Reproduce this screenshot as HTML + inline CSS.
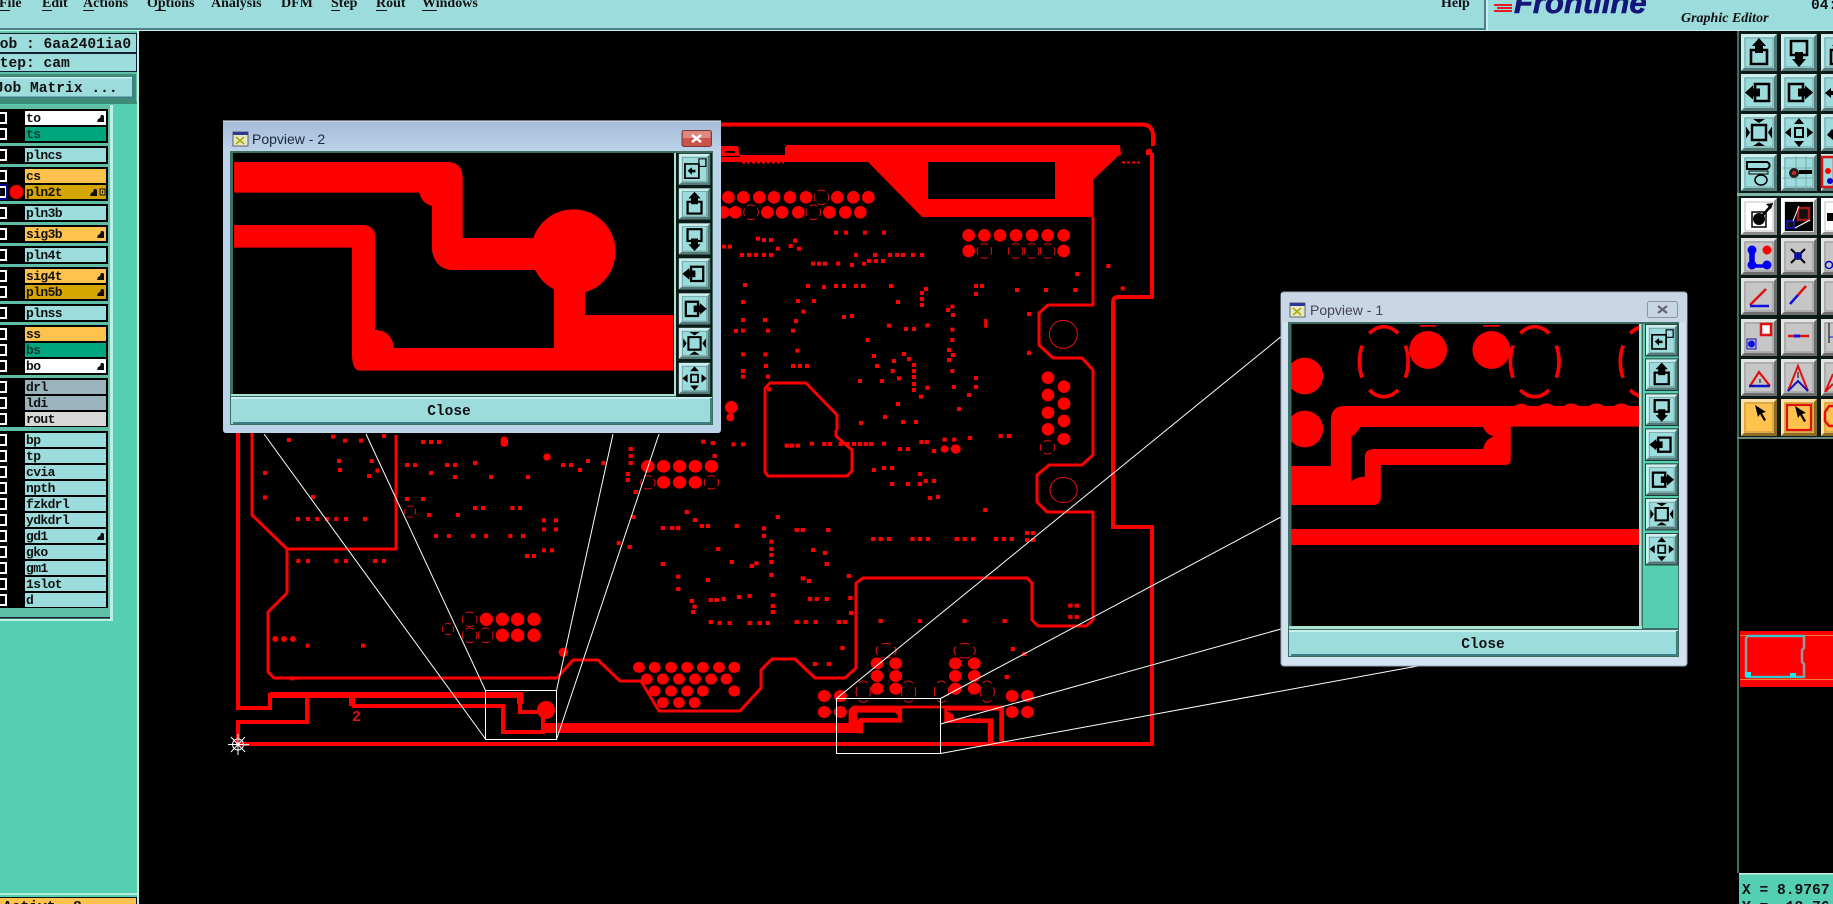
<!DOCTYPE html>
<html><head><meta charset="utf-8"><title>Genesis Graphic Editor</title>
<style>
html,body{margin:0;padding:0;background:#000;width:1833px;height:904px;overflow:hidden}
svg{display:block}
.m{font:bold 12px "Liberation Mono",monospace;fill:#111}
.j{font:bold 14.6px "Liberation Mono",monospace;fill:#111}
.n{font:bold 14px "Liberation Serif",serif;fill:#111}
.s{fill:none;stroke:#f00;stroke-width:12;stroke-linecap:square}
.r{fill:none;stroke:#f00;stroke-linecap:round}
.d{fill:none;stroke:#e01010;stroke-width:3;stroke-dasharray:2.8 1.2;stroke-dashoffset:1.4}
.t{fill:none;stroke:#f00;stroke-linejoin:round}
.w{fill:none;stroke:#fff;stroke-width:1}
</style></head><body>
<svg width="1833" height="904" viewBox="0 0 1833 904" xmlns="http://www.w3.org/2000/svg">
<defs>
<g id="b"><rect width="38" height="39" fill="#0c1a18"/><rect x="1" y="1" width="36" height="37" fill="currentColor"/><path d="M1 1h36l-3 3H4v31l-3 3z" fill="#fff" opacity=".5"/><path d="M37 1v37H1l3-3h30V4z" fill="#000" opacity=".45"/><rect x="5" y="5" width="28" height="29" fill="none" stroke="#000" stroke-width=".5" opacity=".5"/></g>
<g id="iup"><path d="M11 17h16v14H11z" fill="none" stroke="#000" stroke-width="2.6"/><path d="M19 5l7 8h-3v7h-8v-7h-3z"/></g>
<g id="idn"><path d="M11 8h16v14H11z" fill="none" stroke="#000" stroke-width="2.6"/><path d="M19 34l7-8h-3v-7h-8v7h-3z"/></g>
<g id="ilf"><path d="M15 11h14v17H15z" fill="none" stroke="#000" stroke-width="2.6"/><path d="M5 19.500l8-7v3h7v8h-7v3z"/></g>
<g id="irt"><path d="M9 11h14v17H9z" fill="none" stroke="#000" stroke-width="2.6"/><path d="M33 19.500l-8-7v3h-7v8h7v3z"/></g>
<g id="ifit"><path d="M12 12h14v15H12z" fill="none" stroke="#000" stroke-width="2.4"/><path d="M19 10l-6-4h12zM19 29l-6 4h12zM10 19.500l-4-6v12zM28 19.500l4-6v12z"/></g>
<g id="imv"><path d="M15 15h8v9h-8z" fill="none" stroke="#000" stroke-width="2"/><path d="M19 5l-5 6h10zM19 34l-5-6h10zM5 19.500l6-5v10zM33 19.500l-6-5v10z"/></g>
<g id="ibk"><path d="M8 13h16v17H8z" fill="none" stroke="#000" stroke-width="2"/><path d="M24 7h8v9h-8z" fill="none" stroke="#000" stroke-width="1.300"/><path d="M11 21l5-4v3h4v3h-4v3z"/></g>
<path id="h" d="M0 7l1-3 2-1 1-3h2l1 1v6z" fill="#111"/>
</defs>

<!-- menu bar -->
<rect width="1833" height="31" fill="#9ddcdc"/>
<rect y="28" width="1486" height="2" fill="#4d8086"/>
<rect y="30" width="1833" height="1" fill="#c8eeee"/>
<rect x="1484" width="2" height="30" fill="#4d8086"/><rect x="1486" width="2" height="30" fill="#c8eeee"/>
<text class="n" x="-1" y="7">File</text><text class="n" x="42" y="7">Edit</text><text class="n" x="83" y="7">Actions</text><text class="n" x="147" y="7">Options</text><text class="n" x="211" y="7">Analysis</text><text class="n" x="281" y="7">DFM</text><text class="n" x="331" y="7">Step</text><text class="n" x="376" y="7">Rout</text><text class="n" x="422" y="7">Windows</text><text class="n" x="1441" y="7">Help</text>
<path d="M0 10.500h10M42 10.500h10M83 10.500h11M155 10.500h11M331 10.500h9M376 10.500h11M422 10.500h15" stroke="#111" stroke-width="1"/>
<path d="M1494 5h18M1497 8h15M1494 11h18" stroke="#e02020" stroke-width="2"/>
<text x="1514" y="13" style="font:italic bold 31px 'Liberation Sans',sans-serif;fill:#14147a;stroke:#14147a;stroke-width:.6px">Frontline</text>
<text x="1681" y="22" style="font:italic bold 14px 'Liberation Serif',serif;fill:#111">Graphic Editor</text>
<text x="1811" y="9" class="j">04:</text>

<!-- black canvas -->
<rect x="139" y="31" width="1694" height="873" fill="#000"/>

<!-- board -->
<g id="board">
<path d="M720 124.500H1143Q1153 125 1153 136V146M1152 153V297H1118Q1113 297 1113 303V527H1152V744H238" fill="none" stroke="#f00" stroke-width="4"/>
<path d="M720 157H740V155H785V147L787 145H1120L1121 155L1118 156L1112 162L1093 180V217H922L868 162H720ZM928 162V199H1055V162Z" fill="#f00" fill-rule="evenodd"/>
<path d="M720 146H738L740 156H720Z" fill="#f00"/><rect x="725" y="151" width="10" height="2" fill="#000"/>
<path d="M1146 150q4-3 6 0v5h-6z" fill="#f00"/>
<path d="M742 162.500h42M1122 162.500h18" stroke="#f00" stroke-width="2" stroke-dasharray="3 2"/>
<g class="t" style="stroke-width:3">
<path d="M252 430V515L287 549H396V435M287 549V593L268 612V672L274 678H557L573 660H598L620 681H641L659 711H740L761 688V670L772 659H795L815 678H845L856 668V583L863 578H1027L1032 583V620L1038 626H1086L1093 620V512H1047L1037 502V475L1049 465H1082L1093 455V370L1082 358H1053L1039 345V313L1048 305H1093V217"/>
<path d="M765 430V388L770 383H806L837 415V430M765 430V472L768 476H847L852 471V450L836 436V430"/>
</g>
<g fill="none" stroke="#f00">
<path d="M238 430V708H270V695H520V712H545" stroke-width="4"/>
<path d="M270 695H520V704" stroke-width="6"/>
<path d="M238 745V722H307V695" stroke-width="4"/>
<path d="M352 706H503V732H543V716" stroke-width="4"/>
<path d="M352 696V706" stroke-width="6"/>
<path d="M543 728H863" stroke-width="10"/>
</g>
<circle cx="546" cy="710" r="9" fill="#f00"/>
<text x="352" y="721" style="font:bold 15px 'Liberation Mono',monospace;fill:#e01010">2</text>

<!-- zoom 6 area pads -->
<g transform="translate(700 110) scale(.33333)">
<path class="s" d="M72 410h0M90 410h0M174 386h0M192 390h0M213 390h0M234 416h0M285 392h0M272 408h0M297 416h0M126 435h0M147 435h0M168 435h0M192 435h0M213 435h0M408 368h0M438 368h0M495 368h0M552 368h0M468 435h0M525 435h0M570 435h0M591 435h0M609 435h0M639 435h0M666 435h0M507 453h0M528 453h0M549 453h0M492 461h0M456 465h0M414 461h0M339 461h0M357 461h0M375 461h0M135 525h0M324 528h0M372 531h0M408 528h0M432 528h0M468 528h0M489 528h0M573 528h0M678 537h0M666 549h0M666 567h0M666 585h0M828 528h0M846 528h0M828 552h0M951 540h0M1038 540h0M1126 540h0M1132 492h0M1225 468h0M1268 535h0M129 576h0M294 573h0M342 573h0M594 576h0M310 605h0M288 633h0M432 621h0M456 618h0M129 630h0M195 630h0M108 663h0M129 662h0M204 662h0M279 662h0M567 647h0M618 657h0M642 657h0M682 646h0M757 659h0M757 590h0M744 600h0M759 615h0M757 690h0M987 612h0M987 729h0M747 720h0M759 735h0M747 750h0M757 783h0M503 690h0M129 733h0M196 733h0M292 722h0M198 768h0M279 768h0M300 768h0M321 768h0M129 783h0M129 800h0M204 800h0M522 738h0M531 768h0M582 753h0M612 732h0M627 747h0M642 765h0M642 783h0M642 801h0M642 822h0M642 840h0M578 783h0M597 805h0M480 813h0M546 813h0M682 833h0M663 860h0M762 831h0M828 804h0M828 831h0M807 855h0M777 897h0M594 882h0M555 921h0M609 936h0M648 936h0M483 939h0M207 838h0"/>
<path class="r" style="stroke-width:38" d="M85 262h0M130 262h0M178 262h0M222 262h0M270 262h0M318 262h0M412 262h0M460 262h0M505 262h0M106 307h0M202 307h0M246 307h0M295 307h0M388 307h0M436 307h0M481 307h0M70 307h0M806 376h0M853 376h0M900 376h0M948 376h0M996 376h0M1043 376h0M1091 376h0M806 423h0M1091 423h0M1044 803h0M1092 830h0M1044 855h0M1092 881h0M1044 908h0M1092 933h0M1044 958h0M94 892h0"/>
<path class="r" style="stroke-width:24" d="M91 922h0"/>
<circle class="d" pathLength="16" cx="364" cy="262" r="22"/><circle class="d" pathLength="16" cx="153" cy="307" r="22"/><circle class="d" pathLength="16" cx="340" cy="307" r="22"/><circle class="d" pathLength="16" cx="853" cy="423" r="22"/><circle class="d" pathLength="16" cx="947" cy="423" r="22"/><circle class="d" pathLength="16" cx="995" cy="423" r="22"/><circle class="d" pathLength="16" cx="1043" cy="423" r="22"/>
<circle cx="1090" cy="673" r="42" fill="none" stroke="#e01010" stroke-width="3"/>
<path d="M857 627V653" stroke="#f00" stroke-width="9"/>
</g>

<!-- zoom 7 area pads -->
<g transform="translate(220 430) scale(.33333)">
<path class="s" d="M207 30h0M339 20h0M375 32h0M423 32h0M492 18h0M609 36h0M633 36h0M657 36h0M357 93h0M455 93h0M135 129h0M447 138h0M561 105h0M585 105h0M681 105h0M705 105h0M765 99h0M633 129h0M705 141h0M813 141h0M924 141h0M1029 105h0M1053 105h0M1104 93h0M1080 120h0M1150 99h0M135 202h0M279 201h0M561 207h0M609 207h0M627 255h0M714 255h0M765 234h0M789 234h0M877 234h0M900 234h0M972 271h0M1008 271h0M972 298h0M1008 298h0M972 361h0M996 361h0M921 378h0M942 378h0M234 267h0M264 267h0M292 267h0M321 267h0M349 267h0M378 267h0M435 267h0M648 318h0M687 318h0M759 318h0M798 318h0M871 318h0M909 318h0M235 393h0M264 393h0M349 393h0M378 393h0M465 393h0M492 393h0M1196 339h0M263 647h0M429 647h0M360 120h0M472 122h0M218 745h0"/>
<path class="r" style="stroke-width:40" d="M799 568h0M847 568h0M893 568h0M942 568h0M847 616h0M893 616h0M942 616h0"/>
<path class="r" style="stroke-width:18" d="M166 627h0M192 627h0M219 627h0"/>
<path class="r" style="stroke-width:22" d="M853 30v10M981 81h0"/>
<path class="r" style="stroke-width:28" d="M1030 667h0"/>
<circle class="d" pathLength="16" cx="749" cy="568" r="22"/><circle class="d" pathLength="16" cx="749" cy="616" r="22"/><circle class="d" pathLength="16" cx="797" cy="616" r="22"/><circle class="d" pathLength="16" cx="684" cy="597" r="17"/><circle class="d" pathLength="16" cx="570" cy="245" r="17"/>
</g>

<!-- zoom 8 area -->
<g transform="translate(620 430) scale(.35714 .33333)">
<path class="s" d="M233 35h0M260 39h0M318 43h0M345 43h0M30 57h0M30 78h0M30 99h0M265 78h0M22 132h0M22 150h0M44 186h0M38 261h0M187 246h0M210 270h0M229 288h0M246 288h0M120 294h0M146 294h0M163 294h0M327 288h0M403 295h0M403 318h0M442 261h0M495 300h0M512 300h0M583 300h0M27 351h0M424 335h0M424 357h0M424 375h0M424 396h0M424 435h0M275 357h0M313 396h0M382 400h0M369 408h0M541 360h0M574 369h0M579 402h0M120 402h0M163 440h0M246 450h0M163 477h0M512 445h0M529 453h0M641 438h0M645 504h0M201 513h0M254 510h0M271 510h0M290 507h0M333 501h0M363 498h0M428 495h0M532 507h0M551 507h0M579 507h0M209 530h0M205 546h0M428 528h0M428 546h0M254 576h0M279 579h0M307 579h0M363 579h0M391 579h0M414 579h0M495 576h0M520 576h0M548 576h0M613 576h0M630 576h0M647 549h0M623 654h0M546 702h0M585 702h0M730 573h0M840 573h0M965 573h0M1077 573h0M1100 657h0M1132 672h0M1083 741h0M467 47h0M482 47h0M498 47h0M537 41h0M572 42h0M588 42h0M618 42h0M637 42h0M655 42h0M672 42h0M688 42h0M703 42h0M739 41h0M784 57h0M806 57h0M844 36h0M859 36h0M879 63h0M909 29h0M936 29h0M980 24h0M1066 18h0M1089 18h0M711 120h0M739 114h0M762 114h0M840 132h0M762 162h0M806 162h0M840 162h0M856 153h0M879 153h0M868 204h0M890 201h0M1023 240h0M709 327h0M730 327h0M753 327h0M819 327h0M840 327h0M862 327h0M943 327h0M965 327h0M989 327h0M1053 327h0M1075 327h0M1097 327h0M1140 309h0M1157 309h0M1140 330h0M1157 330h0M1261 527h0M1279 527h0M1261 561h0M1279 561h0"/>
<path class="r" style="stroke-width:38" d="M78 109h0M122 109h0M167 109h0M211 109h0M256 109h0M122 157h0M167 157h0M211 157h0"/>
<path class="r" style="stroke-width:33" d="M53 712h0M97 712h0M143 712h0M188 712h0M232 712h0M277 712h0M320 712h0M75 747h0M120 747h0M165 747h0M210 747h0M255 747h0M298 747h0M97 783h0M143 783h0M188 783h0M232 783h0M320 783h0M120 818h0M165 818h0M209 818h0"/>
<path class="r" style="stroke-width:36" d="M572 798h0M617 798h0M572 846h0M617 846h0M720 700h0M772 700h0M720 738h0M772 738h0M720 776h0M772 776h0M939 700h0M992 700h0M939 738h0M992 738h0M939 776h0M992 776h0M1098 798h0M1141 798h0M1098 846h0M1141 846h0"/>
<path class="r" style="stroke-width:36" d="M1243 27h0"/><path class="r" style="stroke-width:22" d="M909 57h0"/><path class="r" style="stroke-width:28" d="M940 57h0"/>
<circle class="d" pathLength="16" cx="78" cy="157" r="20"/><circle class="d" pathLength="16" cx="256" cy="157" r="20"/><circle class="d" pathLength="16" cx="1197" cy="52" r="20"/>
<circle cx="1242" cy="180" r="38" fill="none" stroke="#e01010" stroke-width="3"/>
<ellipse class="d" pathLength="16" cx="745" cy="662" rx="28" ry="22"/><ellipse class="d" pathLength="16" cx="965" cy="662" rx="30" ry="22"/>
<ellipse class="d" pathLength="16" cx="681" cy="785" rx="20" ry="32"/><ellipse class="d" pathLength="16" cx="808" cy="785" rx="20" ry="32"/><ellipse class="d" pathLength="16" cx="900" cy="785" rx="20" ry="32"/><ellipse class="d" pathLength="16" cx="1028" cy="785" rx="20" ry="32"/>
<path d="M640 880V840L652 827H1075V935H1062V842H914L935 855V865H1045V940H1030V879H908V835H790V878H680V910H665V880Z" fill="#f00"/>
<path d="M664 848H770L778 856H778V864H672L664 872Z" fill="#000"/>
<path d="M1062 936H1280V942H1062Z" fill="#f00"/>
</g>

<!-- star -->
<g stroke="#fff" stroke-width="1" fill="none"><circle cx="238" cy="744.500" r="5.500"/><path d="M228 744.500h21M238 734v21M231 737l14 15M245 737l-14 15"/></g>
<path d="M238 739v3M243 745h5" stroke="#5ccccc" stroke-width="1"/>
</g>

<!-- zoom windows and rays -->
<rect class="w" x="485.500" y="690.500" width="71" height="49"/>
<rect class="w" x="836.500" y="698.500" width="104" height="55"/>
<path class="w" d="M264 434L485.500 739M366 434L485.500 690.500M613 434L556.500 690.500M659 434L556.500 739.500M836.500 698.500L1281 336.700M940.500 698.500L1281 517M940.500 724L1281 629M940.500 753.500L1418 666"/>

<!-- right toolbar -->
<rect x="1737" y="438" width="2" height="435" fill="#3c6e62"/>
<rect x="1737" y="31" width="96" height="407" fill="#0c1a18"/>
<rect x="1737" y="31" width="2" height="407" fill="#3c6e62"/>
<rect x="1737" y="193" width="96" height="3" fill="#7fb5a8"/>
<rect x="1737" y="437" width="96" height="2" fill="#6a8a80"/>
<g color="#9ddcdc">
<use href="#b" x="1740" y="33"/><use href="#b" x="1780" y="33"/><use href="#b" x="1820" y="33"/>
<use href="#b" x="1740" y="73"/><use href="#b" x="1780" y="73"/><use href="#b" x="1820" y="73"/>
<use href="#b" x="1740" y="113"/><use href="#b" x="1780" y="113"/><use href="#b" x="1820" y="113"/>
<use href="#b" x="1740" y="153"/><use href="#b" x="1780" y="153"/><use href="#b" x="1820" y="153"/>
</g>
<use href="#iup" x="1740" y="33"/><use href="#idn" x="1780" y="33"/><use href="#iup" x="1820" y="33"/>
<use href="#ilf" x="1740" y="73"/><use href="#irt" x="1780" y="73"/><path d="M1825 93l6-5v3h2v4h-2v3z"/>
<use href="#ifit" x="1740" y="113"/><use href="#imv" x="1780" y="113"/><path d="M1827 135l5-6 1 1v10z"/>
<g><path d="M1747 162h20a5 4 0 0 1 0 7h-20z" fill="none" stroke="#000" stroke-width="2"/><path d="M1749 171h19v3h-19z" fill="none" stroke="#000"/><ellipse cx="1761" cy="180" rx="6" ry="5" fill="none" stroke="#000" stroke-width="1.500"/></g>
<path d="M1783 168h32M1783 178h32M1796 156v34M1806 156v34" stroke="#7aa8a8" stroke-width="1"/><circle cx="1794" cy="173" r="5" fill="#222"/><circle cx="1794" cy="173" r="2" fill="#d22"/><path d="M1799 172h13" stroke="#000" stroke-width="4"/>
<rect x="1822" y="157" width="12" height="30" fill="#9ddcdc" stroke="#e01010" stroke-width="2.500"/><circle cx="1828" cy="171" r="3" fill="#f00"/><circle cx="1830" cy="181" r="3" fill="#00c"/>

<g color="#fff"><use href="#b" x="1740" y="197"/><use href="#b" x="1780" y="197"/><use href="#b" x="1820" y="197"/></g>
<g color="#c6c6c6">
<use href="#b" x="1740" y="237"/><use href="#b" x="1780" y="237"/><use href="#b" x="1820" y="237"/>
<use href="#b" x="1740" y="277"/><use href="#b" x="1780" y="277"/><use href="#b" x="1820" y="277"/>
<use href="#b" x="1740" y="318"/><use href="#b" x="1780" y="318"/><use href="#b" x="1820" y="318"/>
<use href="#b" x="1740" y="358"/><use href="#b" x="1780" y="358"/><use href="#b" x="1820" y="358"/>
</g>
<g color="#ffc34d"><use href="#b" x="1740" y="398"/><use href="#b" x="1780" y="398"/><use href="#b" x="1820" y="398"/></g>

<rect x="1752" y="212" width="14" height="15" fill="none" stroke="#000" stroke-width="1.500"/><circle cx="1759" cy="219" r="6" fill="#000"/><path d="M1762 216l8-9" stroke="#000" stroke-width="2.500"/><path d="M1773 203l-7 1 5 5z"/>
<rect x="1785" y="202" width="28" height="29" fill="#000"/><rect x="1798" y="208" width="11" height="12" fill="#111" stroke="#a01818" stroke-width="2.500"/><rect x="1787" y="221" width="7" height="7" fill="#111" stroke="#1414a0" stroke-width="2"/><path d="M1793 221l6-15M1795 228l15-8" stroke="#fff" stroke-width="1"/>
<path d="M1827 221v-8h6v8z" fill="#000"/>

<g fill="#0000f0"><circle cx="1752" cy="250" r="4.500"/><circle cx="1752" cy="265" r="4.500"/><circle cx="1767" cy="265" r="4.500"/><path d="M1750 250h4v15h13v2h-17z" stroke="#0000f0" stroke-width="1.500"/></g><circle cx="1767" cy="250" r="4.500" fill="#f00"/>
<path d="M1791 249l14 14M1805 249l-14 14" stroke="#000" stroke-width="2"/><circle cx="1798" cy="256" r="4" fill="#1010a0"/>
<circle cx="1829" cy="265" r="3.500" fill="none" stroke="#00c" stroke-width="1.500"/>

<path d="M1750 305l16-16" stroke="#e01010" stroke-width="2.500"/><path d="M1750 306h19" stroke="#1010e0" stroke-width="2.500"/>
<path d="M1790 304l8-9" stroke="#1010e0" stroke-width="2.500"/><path d="M1798 295l8-9" stroke="#e01010" stroke-width="2.500"/>
<rect x="1761" y="324" width="10" height="11" fill="#fff" stroke="#e01010" stroke-width="2.500"/><rect x="1747" y="339" width="9" height="10" fill="#bbb" stroke="#1010c0"/><circle cx="1751.500" cy="344" r="3.500" fill="#1010e0"/>
<path d="M1788 336h10" stroke="#e01010" stroke-width="2.500"/><path d="M1794 336h6" stroke="#1010e0" stroke-width="3"/><path d="M1800 336h9" stroke="#e01010" stroke-width="2.500"/>
<path d="M1829 323v20" stroke="#000"/><path d="M1829 337h4" stroke="#1010e0"/>
<path d="M1750 386l9-14 11 14" fill="none" stroke="#e01010" stroke-width="2.200"/><path d="M1749 386h21" stroke="#1010c0" stroke-width="2.500"/><path d="M1760 383v-4" stroke="#000" stroke-width="1"/>
<path d="M1788 391l10-25 10 25" fill="none" stroke="#e01010" stroke-width="2"/><path d="M1788 391l10-10 10 10" fill="none" stroke="#1010c0" stroke-width="2"/><path d="M1798 378v-6" stroke="#000" stroke-width="1"/>
<path d="M1825 392l8-18M1825 392l8-8" fill="none" stroke="#e01010" stroke-width="2"/>
<path d="M1755 405l3 12 2-3 4 7 2-1-4-7 4-1z" fill="#000"/>
<rect x="1787" y="405" width="24" height="25" fill="none" stroke="#e01010" stroke-width="2.200"/><path d="M1795 406l3 12 2-3 4 7 2-1-4-7 4-1z" fill="#000"/>
<path d="M1833 406h-4l-4 6v9l4 5h4" fill="none" stroke="#e01010" stroke-width="2.500"/>

<!-- preview -->
<rect x="1740" y="631" width="93" height="56" fill="#f00"/>
<path d="M1740 635.500h93M1740 679.500h93" stroke="#f08030" stroke-width="1"/>
<path d="M1746 677V638L1748 636H1804V648L1802 650V662L1804 664V677H1748" fill="none" stroke="#999" stroke-width="2.500"/>
<path d="M1748 636H1804M1746 677H1804" stroke="#30c8d0" stroke-width="2"/>
<rect x="1745" y="672" width="6" height="5" fill="#20e8f0"/><rect x="1790" y="673" width="6" height="4" fill="#20e8f0"/>

<!-- coords -->
<rect x="1739" y="873" width="94" height="31" fill="#54cfb1"/><rect x="1739" y="873" width="94" height="1.500" fill="#c8eedf"/>
<text class="j" x="1742" y="894">X = 8.9767</text>
<text class="j" x="1742" y="911">Y = -18.76</text>

<!-- left panel -->
<rect width="139" height="904" y="31" fill="#54cfb1"/>
<rect x="137" y="31" width="2" height="873" fill="#c0eee0"/>
<rect x="0" y="32" width="137" height="72" fill="#5fbfa6"/>
<rect y="33" width="137" height="20" fill="#123"/><rect y="34" width="136" height="18" fill="#9ddcdc"/>
<rect y="53" width="137" height="19" fill="#123"/><rect y="54" width="136" height="17" fill="#9ddcdc"/>
<rect y="74" width="136" height="30" fill="#3f8a78"/>
<rect y="77" width="134" height="21" fill="#9ddcdc"/><rect y="77" width="134" height="1.500" fill="#c8eeee"/><rect x="132" y="77" width="2" height="21" fill="#3e7e84"/><rect y="96.500" width="134" height="1.500" fill="#3e7e84"/>
<rect y="102" width="137" height="2" fill="#3f8a78"/>
<text class="j" x="-9" y="48">Job : 6aa2401ia0</text>
<text class="j" x="-9" y="67">Step: cam</text>
<text class="j" x="-5" y="92">Job Matrix ...</text>
<rect y="105" width="113" height="516" fill="#5fbfa6"/>
<rect x="110" y="105" width="3" height="516" fill="#c0eee0"/><rect y="619" width="113" height="2" fill="#c0eee0"/><rect y="617" width="110" height="1.500" fill="#123"/>
<g fill="#000">
<rect y="109" width="108" height="34"/><rect y="146" width="108" height="18"/><rect y="167" width="108" height="34"/><rect y="204" width="108" height="18"/><rect y="225" width="108" height="18"/><rect y="246" width="108" height="18"/><rect y="267" width="108" height="34"/><rect y="304" width="108" height="18"/><rect y="325" width="108" height="50"/><rect y="378" width="108" height="49"/><rect y="431" width="108" height="177"/>
</g>
<g fill="#9ddcdc">
<rect x="25" y="111" width="81" height="14" fill="#fff"/><rect x="25" y="127" width="81" height="14" fill="#00a67e"/><rect x="25" y="148" width="81" height="14"/><rect x="25" y="169" width="81" height="14" fill="#ffc34d"/><rect x="25" y="185" width="81" height="14" fill="#d6a600"/><rect x="25" y="206" width="81" height="14"/><rect x="25" y="227" width="81" height="14" fill="#ffc34d"/><rect x="25" y="248" width="81" height="14"/><rect x="25" y="269" width="81" height="14" fill="#ffc34d"/><rect x="25" y="285" width="81" height="14" fill="#d6a600"/><rect x="25" y="306" width="81" height="14"/><rect x="25" y="327" width="81" height="14" fill="#ffc34d"/><rect x="25" y="343" width="81" height="14" fill="#00a67e"/><rect x="25" y="359" width="81" height="14" fill="#fff"/><rect x="25" y="380" width="81" height="14" fill="#9bb3bd"/><rect x="25" y="396" width="81" height="14" fill="#9bb3bd"/><rect x="25" y="412" width="81" height="14" fill="#d8d8d8"/>
<rect x="25" y="433" width="81" height="14"/><rect x="25" y="449" width="81" height="14"/><rect x="25" y="465" width="81" height="14"/><rect x="25" y="481" width="81" height="14"/><rect x="25" y="497" width="81" height="14"/><rect x="25" y="513" width="81" height="14"/><rect x="25" y="529" width="81" height="14"/><rect x="25" y="545" width="81" height="14"/><rect x="25" y="561" width="81" height="14"/><rect x="25" y="577" width="81" height="14"/><rect x="25" y="593" width="81" height="14"/>
</g>
<g fill="none" stroke="#fff" stroke-width="2">
<path d="M0 113h6v10H0M0 129h6v10H0M0 150h6v10H0M0 171h6v10H0M0 187h6v10H0M0 208h6v10H0M0 229h6v10H0M0 250h6v10H0M0 271h6v10H0M0 287h6v10H0M0 308h6v10H0M0 329h6v10H0M0 345h6v10H0M0 361h6v10H0M0 382h6v10H0M0 398h6v10H0M0 414h6v10H0M0 435h6v10H0M0 451h6v10H0M0 467h6v10H0M0 483h6v10H0M0 499h6v10H0M0 515h6v10H0M0 531h6v10H0M0 547h6v10H0M0 563h6v10H0M0 579h6v10H0M0 595h6v10H0"/>
</g>
<path d="M0 185h7v14H0" fill="none" stroke="#000090" stroke-width="2"/>
<circle cx="16.500" cy="192" r="7" fill="#f00"/>
<g style="font:bold 13px 'Liberation Mono',monospace;letter-spacing:-.6px" fill="#111">
<text x="26" y="122">to</text><text x="26" y="138" fill="#0a3a30">ts</text><text x="26" y="159">plncs</text><text x="26" y="180">cs</text><text x="26" y="196">pln2t</text><text x="26" y="217">pln3b</text><text x="26" y="238">sig3b</text><text x="26" y="259">pln4t</text><text x="26" y="280">sig4t</text><text x="26" y="296">pln5b</text><text x="26" y="317">plnss</text><text x="26" y="338">ss</text><text x="26" y="354" fill="#0a3a30">bs</text><text x="26" y="370">bo</text><text x="26" y="391">drl</text><text x="26" y="407">ldi</text><text x="26" y="423">rout</text><text x="26" y="444">bp</text><text x="26" y="460">tp</text><text x="26" y="476">cvia</text><text x="26" y="492">npth</text><text x="26" y="508">fzkdrl</text><text x="26" y="524">ydkdrl</text><text x="26" y="540">gd1</text><text x="26" y="556">gko</text><text x="26" y="572">gm1</text><text x="26" y="588">1slot</text><text x="26" y="604">d</text>
</g>
<use href="#h" x="97" y="115"/><use href="#h" x="90" y="189"/><use href="#h" x="97" y="231"/><use href="#h" x="97" y="273"/><use href="#h" x="97" y="289"/><use href="#h" x="97" y="363"/><use href="#h" x="97" y="533"/>
<rect x="100" y="189" width="5" height="6" fill="none" stroke="#111"/><rect x="102" y="191" width="1" height="2" fill="#111"/>
<rect y="893" width="137" height="2" fill="#b5ebd8"/>
<rect y="897" width="137" height="7" fill="#ffc34d"/><path d="M0 897.500h136.500V904" fill="none" stroke="#111"/>
<text class="j" x="3" y="911">Activt.  8</text>

<!-- popup 2 -->
<g>
<rect x="223" y="121" width="498" height="312" rx="3" fill="#bcd4ea"/>
<rect x="223" y="121" width="498" height="30" fill="url(#gp)"/>
<linearGradient id="gp" x1="0" y1="0" x2="0" y2="1"><stop offset="0" stop-color="#a4bad8"/><stop offset="1" stop-color="#bcd3ea"/></linearGradient>
<path d="M223 121h498" stroke="#e8f0f8"/>
<rect x="233" y="132" width="15" height="14" fill="#e8e8c8" stroke="#333" stroke-width=".7"/><rect x="233" y="132" width="15" height="3" fill="#2a3a90"/><path d="M236 137l8 7M244 137l-8 7" stroke="#a0b000" stroke-width="1.500"/>
<text x="252" y="144" style="font:14px 'Liberation Sans',sans-serif;fill:#1a2a3a">Popview - 2</text>
<rect x="682" y="130.500" width="29.500" height="16" rx="2" fill="#c8544c" stroke="#7a3a38"/><rect x="683" y="131" width="27.500" height="7" fill="#dd8880"/>
<path d="M692 135l9 7M701 135l-9 7" stroke="#fff" stroke-width="2.500"/>
<rect x="230" y="151" width="483" height="274" fill="#3c6e62"/>
<rect x="233" y="153" width="441" height="241" fill="#000"/>
<rect x="674" y="153" width="2" height="241" fill="#a8e4d4"/>
<rect x="231" y="394" width="445" height="2" fill="#a8e4d4"/>
<rect x="676" y="153" width="36" height="244" fill="#0c1a18"/>
<g transform="translate(220 110) scale(.33333)" fill="#f00">
<path d="M42 156H685Q728 158 728 205V384H950V480H700Q645 480 636 420V288Q605 280 598 248H42Z"/>
<circle cx="1060" cy="425" r="127"/>
<path d="M42 345H430Q465 348 465 380V660Q515 660 522 714H1002V480H1095V615H1360V782H420Q398 782 396 740V413H42Z"/>
</g>
<g color="#9ddcdc">
<use href="#b" transform="translate(678 153) scale(.87 .84)"/><use href="#b" transform="translate(678 187.500) scale(.87 .84)"/><use href="#b" transform="translate(678 222.500) scale(.87 .84)"/><use href="#b" transform="translate(678 257.500) scale(.87 .84)"/><use href="#b" transform="translate(678 292.500) scale(.87 .84)"/><use href="#b" transform="translate(678 327) scale(.87 .84)"/><use href="#b" transform="translate(678 362) scale(.87 .84)"/>
</g>
<use href="#ibk" transform="translate(678 153) scale(.87 .84)"/><use href="#iup" transform="translate(678 187.500) scale(.87 .84)"/><use href="#idn" transform="translate(678 222.500) scale(.87 .84)"/><use href="#ilf" transform="translate(678 257.500) scale(.87 .84)"/><use href="#irt" transform="translate(678 292.500) scale(.87 .84)"/><use href="#ifit" transform="translate(678 327) scale(.87 .84)"/><use href="#imv" transform="translate(678 362) scale(.87 .84)"/>
<rect x="231" y="397" width="481" height="27" fill="#9ddcdc"/><path d="M231 398h481" stroke="#c8eeee" stroke-width="2"/><path d="M233 423h479M711 398v25" stroke="#3e7e84" stroke-width="2"/>
<text x="449" y="415" text-anchor="middle" style="font:bold 14.500px 'Liberation Mono',monospace;fill:#111">Close</text>
</g>

<!-- popup 1 -->
<g>
<rect x="1281" y="292" width="406" height="374" rx="3" fill="#d2e1ef" stroke="#9aa8b4"/>
<rect x="1281" y="293" width="406" height="29" fill="#c8d6e5"/>
<rect x="1290" y="303" width="15" height="14" fill="#e8e8c8" stroke="#333" stroke-width=".7"/><rect x="1290" y="303" width="15" height="3" fill="#2a3a90"/><path d="M1293 308l8 7M1301 308l-8 7" stroke="#a0b000" stroke-width="1.500"/>
<text x="1310" y="315" style="font:14px 'Liberation Sans',sans-serif;fill:#445">Popview - 1</text>
<rect x="1647.500" y="301.500" width="30" height="16" rx="2" fill="#c8d6e5" stroke="#8a96a2"/><path d="M1658 306l9 7M1667 306l-9 7" stroke="#667" stroke-width="2.200"/>
<rect x="1288" y="322" width="391" height="335" fill="#3c6e62"/>
<rect x="1291.500" y="324" width="347.500" height="302" fill="#000"/>
<rect x="1639" y="324" width="2.500" height="305" fill="#a8e4d4"/>
<rect x="1289" y="626" width="353" height="3" fill="#a8e4d4"/>
<rect x="1643" y="324" width="35" height="304" fill="#54cfb1"/>
<svg x="1291.500" y="324" width="347.500" height="302" viewBox="65 132 1043 906" preserveAspectRatio="none">
<g fill="#f00"><circle cx="105" cy="288" r="55"/><circle cx="105" cy="447" r="55"/><circle cx="475" cy="210" r="57"/><circle cx="665" cy="210" r="57"/>
<path d="M450 135h50v5h-50zM640 135h50v5h-50z"/>
<path d="M65 558H183V420Q183 378 225 378H1108V440H723V540Q723 555 705 555H333V655Q330 675 310 675H65Z"/>
<ellipse cx="755" cy="405" rx="32" ry="34"/><ellipse cx="830" cy="405" rx="34" ry="35"/><ellipse cx="905" cy="405" rx="34" ry="35"/><ellipse cx="980" cy="405" rx="34" ry="35"/><ellipse cx="1055" cy="405" rx="34" ry="35"/>
<rect x="65" y="747" width="1043" height="48"/></g>
<path d="M245 590V470Q260 462 272 441H640Q650 465 672 468Q645 480 640 507H310Q285 510 285 530V590Q260 590 245 605Z" fill="#000"/>
<g fill="none" stroke="#f00" stroke-width="11" stroke-dasharray="2.800 1.200" stroke-dashoffset="1.400"><ellipse pathLength="16" cx="342" cy="245" rx="73" ry="105"/><ellipse pathLength="16" cx="795" cy="245" rx="73" ry="105"/><ellipse pathLength="16" cx="1125" cy="245" rx="73" ry="105"/></g>
</svg>
<g color="#9ddcdc">
<use href="#b" transform="translate(1645 324) scale(.88 .83)"/><use href="#b" transform="translate(1645 358.500) scale(.88 .83)"/><use href="#b" transform="translate(1645 393.500) scale(.88 .83)"/><use href="#b" transform="translate(1645 428.500) scale(.88 .83)"/><use href="#b" transform="translate(1645 463.500) scale(.88 .83)"/><use href="#b" transform="translate(1645 498) scale(.88 .83)"/><use href="#b" transform="translate(1645 533) scale(.88 .83)"/>
</g>
<use href="#ibk" transform="translate(1645 324) scale(.88 .83)"/><use href="#iup" transform="translate(1645 358.500) scale(.88 .83)"/><use href="#idn" transform="translate(1645 393.500) scale(.88 .83)"/><use href="#ilf" transform="translate(1645 428.500) scale(.88 .83)"/><use href="#irt" transform="translate(1645 463.500) scale(.88 .83)"/><use href="#ifit" transform="translate(1645 498) scale(.88 .83)"/><use href="#imv" transform="translate(1645 533) scale(.88 .83)"/>
<rect x="1289" y="630" width="389" height="26" fill="#9ddcdc"/><path d="M1289 631h389" stroke="#c8eeee" stroke-width="2"/><path d="M1291 655h387M1677 631v24" stroke="#3e7e84" stroke-width="2"/>
<text x="1483" y="648" text-anchor="middle" style="font:bold 14.500px 'Liberation Mono',monospace;fill:#111">Close</text>
</g>
</svg>
</body></html>
